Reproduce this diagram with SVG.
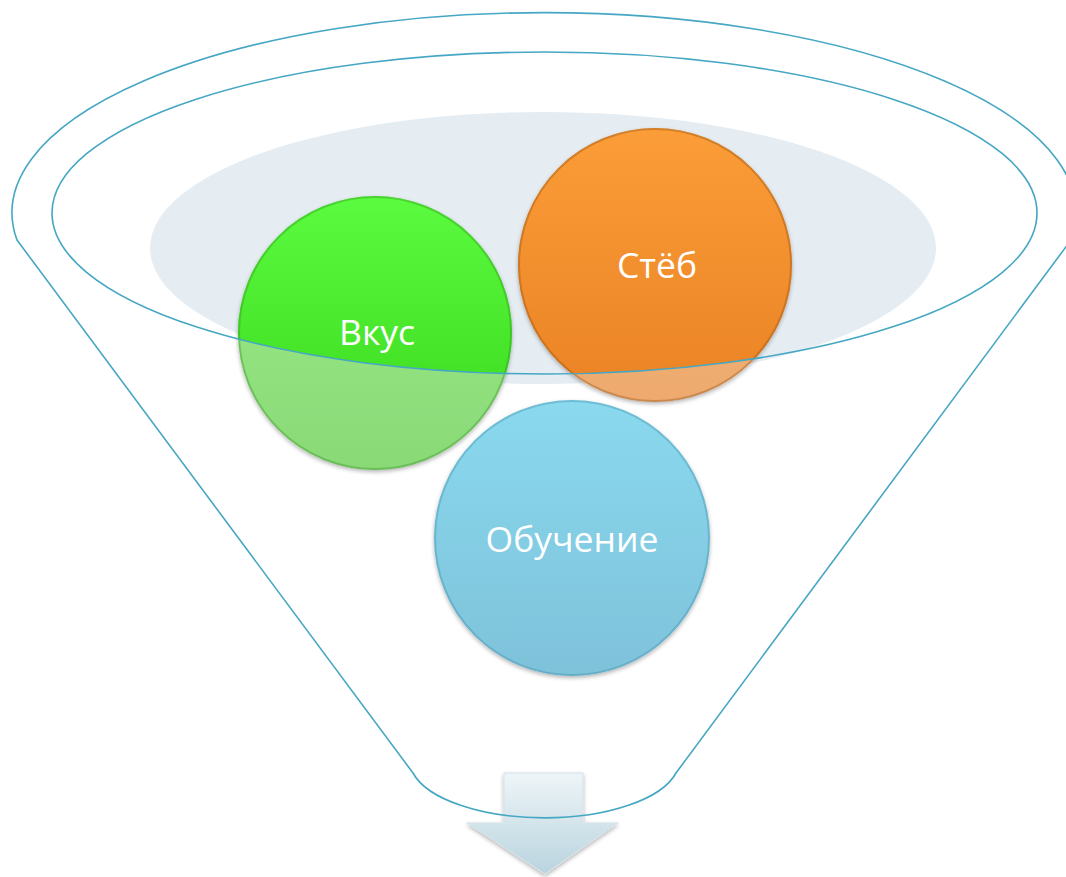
<svg xmlns="http://www.w3.org/2000/svg" width="1066" height="877" viewBox="0 0 1066 877">
<style>
.rim{fill:none;stroke:#45a7c3;stroke-width:1.6}
.lbl{font-family:"Open Sans","Noto Sans",sans-serif;font-size:35.5px;fill:#ffffff;text-anchor:middle}
.edge{fill:none;stroke-width:2;stroke-opacity:0.35}
</style>
<defs>
<linearGradient id="gG" x1="0" y1="0" x2="0" y2="1"><stop offset="0" stop-color="#5bfb3f"/><stop offset="1" stop-color="#38d51a"/></linearGradient>
<linearGradient id="gGf" x1="0" y1="0" x2="0" y2="1"><stop offset="0" stop-color="#9ced8a"/><stop offset="1" stop-color="#8ad977"/></linearGradient>
<linearGradient id="gO" x1="0" y1="0" x2="0" y2="1"><stop offset="0" stop-color="#fb9d38"/><stop offset="1" stop-color="#ea8224"/></linearGradient>
<linearGradient id="gOf" x1="0" y1="0" x2="0" y2="1"><stop offset="0" stop-color="#f4b981"/><stop offset="1" stop-color="#eeaa6e"/></linearGradient>
<linearGradient id="gB" x1="0" y1="0" x2="0" y2="1"><stop offset="0" stop-color="#8ad9ee"/><stop offset="1" stop-color="#7ec2da"/></linearGradient>
<linearGradient id="gA" x1="0" y1="0" x2="0" y2="1"><stop offset="0" stop-color="#eef5f8"/><stop offset="1" stop-color="#b9d4de"/></linearGradient>
<clipPath id="inner"><ellipse cx="544.5" cy="213" rx="492.5" ry="161"/></clipPath>
<filter id="sh" x="-10%" y="-10%" width="120%" height="120%"><feGaussianBlur in="SourceAlpha" stdDeviation="2"/><feOffset dx="0" dy="2"/><feComponentTransfer><feFuncA type="linear" slope="0.3"/></feComponentTransfer><feMerge><feMergeNode/><feMergeNode in="SourceGraphic"/></feMerge></filter>
</defs>
<rect width="1066" height="877" fill="#ffffff"/>
<g id="bowl">
<ellipse cx="543" cy="248" rx="393" ry="136" fill="#e5edf3"/>
</g>
<g id="arrow" filter="url(#sh)">
<path d="M504 773 H583 V823 H618 L545 874 L467 823 H504 Z" fill="url(#gA)" stroke="#d4e3ea" stroke-width="1"/>
</g>
<g id="node-vkus">
<circle cx="375" cy="333" r="137" fill="url(#gGf)" filter="url(#sh)"/>
<circle cx="375" cy="333" r="137" fill="url(#gG)" clip-path="url(#inner)"/>
<circle cx="375" cy="333" r="136" class="edge" stroke="#2f8a1d"/>
<text class="lbl" x="377" y="345">Вкус</text>
</g>
<g id="node-steb">
<circle cx="655" cy="265" r="137" fill="url(#gOf)" filter="url(#sh)"/>
<circle cx="655" cy="265" r="137" fill="url(#gO)" clip-path="url(#inner)"/>
<circle cx="655" cy="265" r="136" class="edge" stroke="#8a4a10"/>
<text class="lbl" x="657" y="278">Стёб</text>
</g>
<g id="node-obuchenie">
<circle cx="572" cy="538" r="138" fill="url(#gB)" filter="url(#sh)"/>
<circle cx="572" cy="538" r="137" class="edge" stroke="#3a8aa5"/>
<text class="lbl" x="572" y="552">Обучение</text>
</g>
<g id="funnel">
<path class="rim" d="M17 240 A532 200 0 1 1 1071 240 L676 773 A135 58 0 0 1 413 773 Z"/>
<ellipse class="rim" cx="544.5" cy="213" rx="492.5" ry="161"/>
</g>
</svg>
